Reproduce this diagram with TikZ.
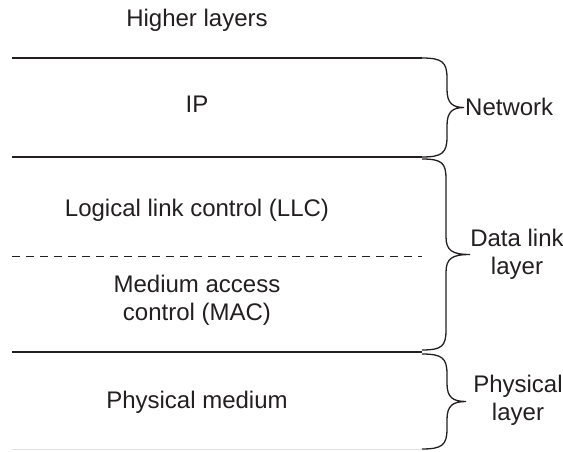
\documentclass[tikz,border=0pt]{standalone}
\usepackage{fontspec}
\setmainfont{Liberation Sans}
\definecolor{ink}{HTML}{231F20}
\tikzset{
  label/.style={font=\fontsize{24}{28}\selectfont, text=ink, inner sep=0pt},
  thinrule/.style={draw=ink, line width=1.2pt},
  thickrule/.style={draw=ink, line width=2.8pt},
  dashrule/.style={draw=ink, line width=1pt, dash pattern=on 8pt off 6pt},
  faintrule/.style={draw=black!12, line width=1pt},
  bracket/.style={draw=ink, line width=1.3pt},
}
% curly brace opening to the right: #1 name, #2 left x, #3 top y, #4 bottom y, #5 stem x, #6 tip x
\newcommand\layerbrace[6]{%
  \pgfmathsetmacro\bym{(#3+#4)/2}%
  \coordinate (#1-tip) at (#6,\bym);
  \draw[bracket] (#2,#3)
    .. controls (#2+20,#3) and (#5,#3-4) .. (#5,#3-20)
    -- (#5,\bym+18)
    .. controls (#5,\bym+4) and (#5+6,\bym) .. (#1-tip)
    .. controls (#5+6,\bym) and (#5,\bym-4) .. (#5,\bym-18)
    -- (#5,#4+20)
    .. controls (#5,#4+4) and (#2+20,#4) .. (#2,#4);
}
\begin{document}
\begin{tikzpicture}[x=1pt, y=1pt]
\useasboundingbox (0,0) rectangle (563,451);

% layer boundaries
\coordinate (t0) at (12,393);  \coordinate (t1) at (422,393);
\coordinate (a0) at (12,294);  \coordinate (a1) at (422,294);
\coordinate (d0) at (12,195);  \coordinate (d1) at (422,195);
\coordinate (b0) at (12,99);   \coordinate (b1) at (422,99);
\coordinate (e0) at (12,2);    \coordinate (e1) at (422,2);

\draw[thinrule] (t0) -- (t1);
\draw[thickrule] (a0) -- (a1);
\draw[dashrule] (d0) -- (d1);
\draw[thickrule] (b0) -- (b1);
\draw[faintrule] (e0) -- (e1);

% layer names
\node[label] (higher) at (197,431) {Higher layers};
\node[label] (ip) at (197,347) {IP};
\node[label] (llc) at (197,241) {Logical link control (LLC)};
\node[label, align=center] (mac) at (197,151) {Medium access\\control (MAC)};
\node[label] (phys) at (197,49) {Physical medium};

% grouping braces
\layerbrace{nb}{422}{393}{294}{447}{464}
\layerbrace{lb}{422}{292}{101}{446}{470}
\layerbrace{pb}{422}{97}{2}{447}{466}

\node[label, anchor=west] (net) at (465,344) {Network};
\node[label, align=center] (dll) at (517,197) {Data link\\layer};
\node[label, align=center] (pl) at (518,51) {Physical\\layer};
\end{tikzpicture}
\end{document}
